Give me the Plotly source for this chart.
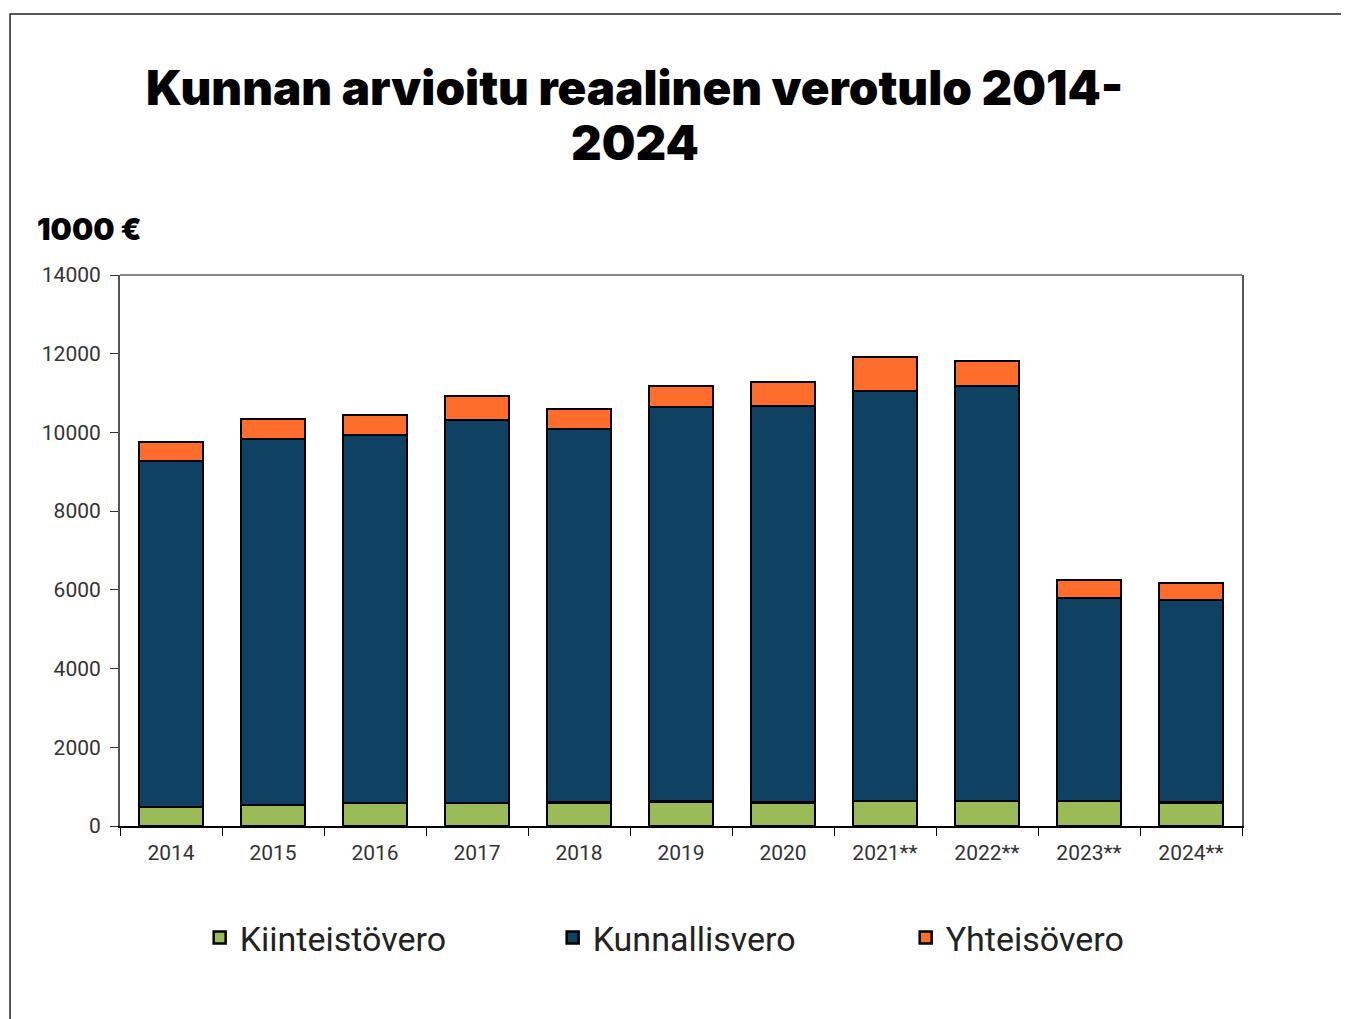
import plotly.graph_objects as go

years = ["2014", "2015", "2016", "2017", "2018", "2019", "2020",
         "2021**", "2022**", "2023**", "2024**"]
kiinteistovero = [483, 540, 580, 580, 600, 620, 600, 630, 640, 640, 600]
kunnallisvero = [8790, 9290, 9354, 9735, 9487, 10025, 10071, 10422, 10539, 5153, 5142]
yhteisovero = [483, 509, 508, 610, 508, 534, 609, 864, 635, 457, 432]
ytickvals = [0, 2000, 4000, 6000, 8000, 10000, 12000, 14000]

green = "#9BBB59"
navy = "#0F4163"
orange = "#FF6D2D"

fig = go.Figure()
for name, vals, col in [("Kiinteistövero", kiinteistovero, green),
                        ("Kunnallisvero", kunnallisvero, navy),
                        ("Yhteisövero", yhteisovero, orange)]:
    fig.add_trace(go.Bar(x=years, y=vals, name=name, marker_color=col,
                         marker_line_color="black", marker_line_width=2.5))

fig.update_layout(
    barmode="stack",
    bargap=0.37,
    width=1341, height=1011,
    margin=dict(l=112, r=107, t=267, b=193),
    plot_bgcolor="white", paper_bgcolor="white",
    font=dict(family="Roboto", color="#333"),
    showlegend=True,
    legend=dict(orientation="h", x=0.071, xanchor="left", y=-0.203, yanchor="middle",
                entrywidth=308, entrywidthmode="pixels",
                font=dict(size=34, color="#222"), traceorder="normal",
                itemwidth=30),
    xaxis=dict(showline=True, linecolor="black", linewidth=1.5,
               ticks="outside", tickson="boundaries", ticklen=8, tickcolor="black",
               ticklabelstandoff=7,
               tickfont=dict(size=21, color="#333"), showgrid=False),
    yaxis=dict(range=[0, 14000], tickvals=ytickvals, tickformat="d", showline=True,
               linecolor="#555", linewidth=2, mirror=True,
               ticks="outside", ticklen=8, tickcolor="#333",
               ticklabelstandoff=5,
               tickfont=dict(size=21, color="#333"), showgrid=False,
               zeroline=False),
    annotations=[
        dict(text="Kunnan arvioitu reaalinen verotulo 2014-",
             xref="paper", yref="paper", x=0.459, y=1.341, xanchor="center",
             yanchor="middle", showarrow=False,
             font=dict(family="Inter", size=47.5, color="black", weight=900)),
        dict(text="2024",
             xref="paper", yref="paper", x=0.459, y=1.241, xanchor="center",
             yanchor="middle", showarrow=False,
             font=dict(family="Inter", size=47.5, color="black", weight=900)),
        dict(text="1000 €", xref="paper", yref="paper",
             x=-0.0758, y=1.0835, xanchor="left", yanchor="middle", showarrow=False,
             font=dict(family="Inter", size=30, color="black", weight=900)),
    ],
    shapes=[
        dict(type="rect", xref="paper", yref="paper", x0=-0.098, y0=-0.6,
             x1=1.3, y1=1.4737, line=dict(color="#222", width=1.5)),
        dict(type="line", xref="paper", yref="paper", x0=0, x1=1, y0=1, y1=1,
             line=dict(color="#888", width=2)),
    ],
)

fig.write_html("out.html")
